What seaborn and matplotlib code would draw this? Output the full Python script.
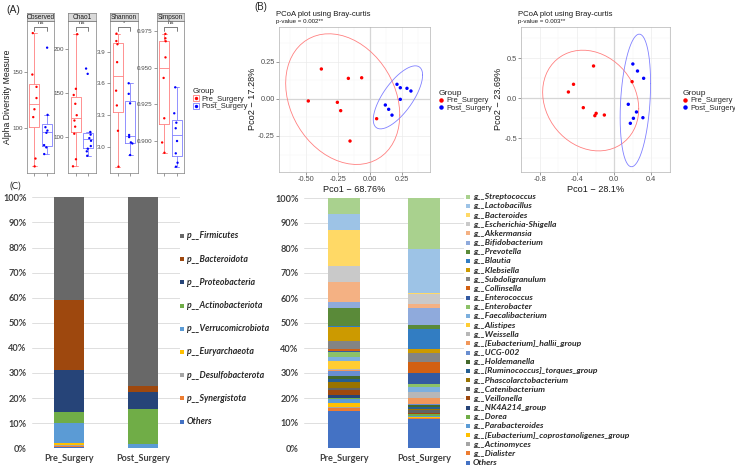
import numpy as np
import pandas as pd
import matplotlib
matplotlib.use('Agg')
import matplotlib.pyplot as plt
import matplotlib.transforms as mtrans
from matplotlib.lines import Line2D
from matplotlib.patches import Rectangle
import seaborn as sns

W, H = 735, 471

groups = ['Pre_Surgery', 'Post_Surgery']

# ---- (A) alpha diversity (one value per sample)
observed_pre = [66, 73, 110, 117, 127, 137, 148, 185]
observed_post = [77, 83, 85, 96, 98, 101, 112, 172]
chao1_pre = [67, 75, 104, 112, 119, 125, 138, 148, 155, 217]
chao1_post = [79, 84, 87, 90, 96, 99, 103, 106, 172, 178]
shannon_pre = [2.81, 3.15, 3.39, 3.53, 3.80, 3.97, 4.00, 4.07]
shannon_post = [2.92, 3.03, 3.04, 3.09, 3.11, 3.41, 3.50, 3.60]
simpson_pre = [0.892, 0.899, 0.9155, 0.943, 0.957, 0.968, 0.970, 0.973]
simpson_post = [0.8825, 0.8852, 0.8916, 0.900, 0.9087, 0.9125, 0.9189, 0.9366]
alpha_metrics = ['Observed', 'Chao1', 'Shannon', 'Simpson']
alpha_signif = ['ns', 'ns', '*', 'ns']

# ---- (B) PCoA coordinates
pcoa1_pre_x = [-0.38, -0.169, -0.065, -0.482, -0.255, -0.229, -0.156, 0.052]
pcoa1_pre_y = [0.20, 0.137, 0.141, -0.015, -0.024, -0.080, -0.284, -0.134]
pcoa1_post_x = [0.211, 0.237, 0.289, 0.320, 0.237, 0.120, 0.146, 0.172]
pcoa1_post_y = [0.097, 0.074, 0.070, 0.052, -0.004, -0.042, -0.071, -0.110]
pcoa2_pre_x = [-0.491, -0.436, -0.221, 0.193, -0.331, -0.193, -0.207, -0.105]
pcoa2_pre_y = [0.079, 0.175, 0.404, 0.208, -0.117, -0.188, -0.217, -0.209]
pcoa2_post_x = [0.201, 0.251, 0.317, 0.152, 0.240, 0.207, 0.174, 0.309]
pcoa2_post_y = [0.429, 0.341, 0.250, -0.075, -0.171, -0.250, -0.3125, -0.2425]
pcoa_axis = [('Pco1 \u2212 68.76%', 'Pco2 \u2212 17.28%', 'p-value = 0.002**'),
             ('Pco1 \u2212 28.1%', 'Pco2 \u2212 23.69%', 'p-value = 0.003**')]

# ---- (C) relative abundance, % (legend order = top of stack first)
phylum_names = ['Firmicutes', 'Bacteroidota', 'Proteobacteria', 'Actinobacteriota',
                'Verrucomicrobiota', 'Euryarchaeota', 'Desulfobacterota',
                'Synergistota', 'Others']
phylum_pre = [40.9, 27.9, 16.9, 4.4, 8.0, 0.7, 0.4, 0.5, 0.4]
phylum_post = [75.1, 2.3, 7.0, 13.8, 1.6, 0.05, 0.05, 0.05, 0.05]
phylum_colors = ['#686868', '#9E480E', '#264478', '#70AD47', '#5B9BD5',
                 '#FFC000', '#A5A5A5', '#ED7D31', '#4472C4']

genus_names = ['Streptococcus', 'Lactobacillus', 'Bacteroides', 'Escherichia-Shigella',
               'Akkermansia', 'Bifidobacterium', 'Prevotella', 'Blautia', 'Klebsiella',
               'Subdoligranulum', 'Collinsella', 'Enterococcus', 'Enterobacter',
               'Faecalibacterium', 'Alistipes', 'Weissella', '[Eubacterium]_hallii_group',
               'UCG-002', 'Holdemanella', '[Ruminococcus]_torques_group',
               'Phascolarctobacterium', 'Catenibacterium', 'Veillonella', 'NK4A214_group',
               'Dorea', 'Parabacteroides', '[Eubacterium]_coprostanoligenes_group',
               'Actinomyces', 'Dialister', 'Others']
genus_pre = [6.3, 6.4, 14.4, 6.7, 8.0, 2.3, 7.3, 0.4, 5.6, 3.1, 0.9, 0.3, 2.0, 1.7,
             3.1, 0.4, 0.3, 1.9, 1.5, 1.2, 2.1, 0.9, 2.0, 1.3, 0.4, 1.6, 1.6, 0.5, 1.1, 14.8]
genus_post = [20.4, 17.6, 0.4, 3.9, 1.7, 6.8, 1.6, 7.9, 1.7, 3.7, 4.3, 4.3, 1.3, 1.9,
              0.1, 2.5, 2.1, 0.4, 1.1, 0.7, 0.3, 1.3, 0.3, 0.1, 0.9, 0.3, 0.4, 0.1, 0.3, 11.6]
genus_colors = ['#A9D18E', '#9DC3E6', '#FFD966', '#C9C9C9', '#F4B183', '#8FAADC',
                '#5A8A39', '#327DC2', '#CC9A00', '#848484', '#D26012', '#335AA1',
                '#8CC168', '#7CAFDD', '#FFCD33', '#B7B7B7', '#F1975A', '#698ED0',
                '#43682B', '#255E91', '#997300', '#636363', '#9E480E', '#264478',
                '#70AD47', '#5B9BD5', '#FFC000', '#A5A5A5', '#ED7D31', '#4472C4']

sns.set_style('white')
plt.rcParams['font.family'] = ['Liberation Sans', 'DejaVu Sans']
plt.rcParams['axes.unicode_minus'] = True

fig = plt.figure(figsize=(W / 100, H / 100), dpi=100)


def add_ax(l, t, r, b):
    return fig.add_axes([l / W, 1 - b / H, (r - l) / W, (b - t) / H])


def grey_ticks(ax, size):
    ax.tick_params(axis='both', labelsize=size, labelcolor='#4d4d4d', color='#4d4d4d',
                   length=2, width=0.4, pad=1, direction='out')
    ax.tick_params(left=True, bottom=True)


# ================= (A) =================
light = {'Pre_Surgery': '#ff8080', 'Post_Surgery': '#8080ff'}
dark = {'Pre_Surgery': 'red', 'Post_Surgery': 'blue'}
alpha_data = {'Observed': (observed_pre, observed_post), 'Chao1': (chao1_pre, chao1_post),
              'Shannon': (shannon_pre, shannon_post), 'Simpson': (simpson_pre, simpson_post)}
facet_px = [(27, 54), (68, 96), (110, 138), (157, 184)]
facet_ylim = [(60.1, 195.8), (59.4, 232), (2.75, 4.19), (0.8782, 0.9818)]
facet_ticks = [[100, 150], [100, 150, 200], [3.0, 3.3, 3.6, 3.9], [0.900, 0.925, 0.950, 0.975]]
facet_fmt = ['{:.0f}', '{:.0f}', '{:.1f}', '{:.3f}']

np.random.seed(3)
for i, metric in enumerate(alpha_metrics):
    pre, post = alpha_data[metric]
    df = pd.DataFrame({'Group': ['Pre_Surgery'] * len(pre) + ['Post_Surgery'] * len(post),
                       'value': list(pre) + list(post)})
    l, r = facet_px[i]
    ax = add_ax(l, 21, r, 173)
    sns.boxplot(data=df, x='Group', y='value', hue='Group', order=groups, hue_order=groups,
                palette=light, fill=False, width=0.8, whis=2.0, showfliers=False,
                linewidth=0.6, legend=False, ax=ax)
    sns.stripplot(data=df, x='Group', y='value', hue='Group', order=groups, hue_order=groups,
                  palette=dark, size=1.7, jitter=0.22, linewidth=0, legend=False, ax=ax)
    ax.set_xlim(-0.6, 1.6)
    ax.set_ylim(*facet_ylim[i])
    ax.set_yticks(facet_ticks[i])
    ax.set_yticklabels([facet_fmt[i].format(v) for v in facet_ticks[i]])
    ax.set_xticks([0, 1])
    ax.set_xticklabels([])
    ax.set_xlabel('')
    ax.set_ylabel('')
    grey_ticks(ax, 4.5)
    for s in ax.spines.values():
        s.set_color('#7f7f7f')
        s.set_linewidth(0.5)
    # significance bracket
    tr = mtrans.blended_transform_factory(ax.transData, ax.transAxes)
    ax.plot([0, 0, 1, 1], [0.936, 0.9625, 0.9625, 0.936], color='#333333', lw=0.45,
            transform=tr, clip_on=False)
    ax.text(0.5, 0.972, alpha_signif[i], transform=tr, ha='center', va='bottom',
            fontsize=4.4, color='#333333')
    # facet strip
    sax = add_ax(l, 13, r, 21)
    sax.set_facecolor('#d9d9d9')
    sax.set_xticks([])
    sax.set_yticks([])
    for s in sax.spines.values():
        s.set_color('#7f7f7f')
        s.set_linewidth(0.5)
    sax.text(0.5, 0.45, metric, ha='center', va='center', fontsize=4.7, color='#1a1a1a',
             transform=sax.transAxes)

fig.text(7.5 / W, 1 - 97 / H, 'Alpha Diversity Measure', rotation=90, ha='center',
         va='center', fontsize=6.2, color='#1a1a1a')
fig.text(6 / W, 1 - 10 / H, '(A)', ha='left', va='center', fontsize=7.5)

a_handles = [(Line2D([], [], marker='s', ms=4.5, mfc='none', mec=light[g], mew=0.6, ls=''),
              Line2D([], [], marker='o', ms=1.4, color=dark[g], ls='')) for g in groups]
leg = fig.legend(a_handles, groups, title='Group', loc='upper left',
                 bbox_to_anchor=(189 / W, 1 - 84 / H), frameon=False, fontsize=5.5,
                 title_fontsize=5.7, handlelength=0.8, handletextpad=0.3,
                 labelspacing=0.05, borderpad=0, alignment='left')

# ================= (B) =================
pcoa_sets = [(pcoa1_pre_x, pcoa1_pre_y, pcoa1_post_x, pcoa1_post_y),
             (pcoa2_pre_x, pcoa2_pre_y, pcoa2_post_x, pcoa2_post_y)]
b_px = [(279, 430), (521, 670)]
b_leg_x = [435, 679]
b_xlim = [(-0.711, 0.469), (-0.828, 0.414)]
b_ylim = [(-0.49, 0.484), (-0.9175, 0.895)]
b_xt = [[-0.5, -0.25, 0.0, 0.25], [-0.8, -0.4, 0.0, 0.4]]
b_yt = [[-0.25, 0.0, 0.25], [-0.5, 0.0, 0.5]]
b_xfmt = ['{:.2f}', '{:.1f}']
b_yfmt = ['{:.2f}', '{:.1f}']


def cov_trob(x, nu=5, maxit=25, tol=0.01):
    # same robust estimate that ggplot's stat_ellipse uses (MASS::cov.trob)
    n, p = x.shape
    wt = np.ones(n)
    loc = x.mean(axis=0)
    w = np.sqrt(wt)
    for _ in range(maxit):
        w0 = w
        X = x - loc
        _, d, vt = np.linalg.svd(np.sqrt(w / w.sum())[:, None] * X, full_matrices=False)
        wX = X @ vt.T @ np.diag(1 / d)
        Q = (wX ** 2).sum(axis=1)
        w = (wt * (nu + p)) / (nu + Q)
        loc = (w[:, None] * x).sum(axis=0) / w.sum()
        if np.all(np.abs(w - w0) < tol):
            break
    sw = np.sqrt(w)[:, None] * X
    return loc, sw.T @ sw / wt.sum()


def ellipse_xy(xs, ys, level=0.95, segments=61):
    pts = np.column_stack([xs, ys])
    center, shape = cov_trob(pts)
    dfd = len(xs) - 1
    qf = dfd / 2 * ((1 - level) ** (-2 / dfd) - 1)
    radius = np.sqrt(2 * qf)
    ang = np.linspace(0, 2 * np.pi, segments)
    circ = np.column_stack([np.cos(ang), np.sin(ang)])
    e = center + radius * circ @ np.linalg.cholesky(shape).T
    return e[:, 0], e[:, 1]


for k in range(2):
    px, py, qx, qy = pcoa_sets[k]
    l, r = b_px[k]
    ax = add_ax(l, 26.7, r, 171.7)
    ax.set_xlim(*b_xlim[k])
    ax.set_ylim(*b_ylim[k])
    xt, yt = b_xt[k], b_yt[k]
    ax.set_xticks(xt)
    ax.set_yticks(yt)
    ax.set_xticks([(a + b) / 2 for a, b in zip(xt[:-1], xt[1:])] +
                  [xt[0] - (xt[1] - xt[0]) / 2, xt[-1] + (xt[1] - xt[0]) / 2], minor=True)
    ax.set_yticks([(a + b) / 2 for a, b in zip(yt[:-1], yt[1:])] +
                  [yt[0] - (yt[1] - yt[0]) / 2, yt[-1] + (yt[1] - yt[0]) / 2], minor=True)
    ax.set_xticklabels([b_xfmt[k].format(v) for v in xt])
    ax.set_yticklabels([b_yfmt[k].format(v) for v in yt])
    ax.grid(which='major', color='#ebebeb', lw=0.5)
    ax.grid(which='minor', color='#f4f4f4', lw=0.3)
    ax.tick_params(which='minor', length=0)
    ax.axhline(0, color='#d6d6d6', lw=0.9, zorder=1)
    ax.axvline(0, color='#d6d6d6', lw=0.9, zorder=1)
    df = pd.DataFrame({'x': list(px) + list(qx), 'y': list(py) + list(qy),
                       'Group': ['Pre_Surgery'] * len(px) + ['Post_Surgery'] * len(qx)})
    sns.scatterplot(data=df, x='x', y='y', hue='Group', hue_order=groups, palette=dark,
                    s=6, linewidth=0, legend=False, ax=ax, zorder=3)
    for xs, ys, g in [(px, py, 'Pre_Surgery'), (qx, qy, 'Post_Surgery')]:
        ex, ey = ellipse_xy(xs, ys)
        ax.plot(ex, ey, color=light[g], lw=0.6, zorder=2)
    grey_ticks(ax, 5.3)
    for s in ax.spines.values():
        s.set_color('#b3b3b3')
        s.set_linewidth(0.5)
    xlab, ylab, ptxt = pcoa_axis[k]
    ax.set_xlabel(xlab, fontsize=6.6, labelpad=1.5, color='#1a1a1a')
    ax.set_ylabel(ylab, fontsize=6.6, labelpad=1.0, color='#1a1a1a')
    fig.text((l - 3) / W, 1 - 14 / H, 'PCoA plot using Bray-curtis', fontsize=5.6,
             ha='left', va='center', color='#1a1a1a')
    fig.text((l - 3) / W, 1 - 21.5 / H, ptxt, fontsize=4.4, ha='left', va='center',
             color='#1a1a1a')
    b_handles = [Line2D([], [], marker='o', ms=2.2, color=dark[g], ls='') for g in groups]
    fig.legend(b_handles, groups, title='Group', loc='upper left',
               bbox_to_anchor=(b_leg_x[k] / W, 1 - 86 / H), frameon=False, fontsize=5.4,
               title_fontsize=6.0, handlelength=0.6, handletextpad=0.4,
               labelspacing=0.05, borderpad=0, alignment='left')

fig.text(254 / W, 1 - 7 / H, '(B)', ha='left', va='center', fontsize=7)

# ================= (C) =================
cfont = ['Lato', 'DejaVu Sans']


def stacked(ax, pre, post, colors):
    vals = np.array([pre, post], dtype=float)
    vals = vals / vals.sum(axis=1, keepdims=True) * 100
    bottom = np.zeros(2)
    for j in range(vals.shape[1] - 1, -1, -1):
        ax.bar([0, 1], vals[:, j], bottom=bottom, width=0.4, color=colors[j],
               linewidth=0, zorder=2)
        bottom += vals[:, j]
    ax.set_xlim(-0.5, 1.5)
    ax.set_ylim(0, 100)
    ax.set_yticks(np.arange(0, 101, 10))
    ax.set_yticklabels(['{}%'.format(v) for v in range(0, 101, 10)], family=cfont,
                       fontweight='bold', fontsize=6.6, color='#404040')
    ax.set_xticks([0, 1])
    ax.set_xticklabels(groups, family=cfont, fontweight='bold', fontsize=6.6, color='#404040')
    ax.tick_params(length=0, pad=4)
    ax.grid(axis='y', color='#d9d9d9', lw=0.6, zorder=0)
    ax.grid(axis='x', visible=False)
    for s in ax.spines.values():
        s.set_visible(False)


ax_p = add_ax(32, 197.3, 180, 448.3)
stacked(ax_p, phylum_pre, phylum_post, phylum_colors)
ax_g = add_ax(304, 198, 464, 448)
stacked(ax_g, genus_pre, genus_post, genus_colors)


def side_legend(names, colors, prefix, x0, y0, dy, size, box):
    for j, (nm, c) in enumerate(zip(names, colors)):
        y = y0 + j * dy
        fig.patches.append(Rectangle(((x0 - box / 2) / W, 1 - (y + box / 2) / H), box / W,
                                     box / H, transform=fig.transFigure, color=c,
                                     linewidth=0))
        label = nm if nm == 'Others' else prefix + nm
        fig.text((x0 + box / 2 + 2.5) / W, 1 - y / H, label, family=cfont,
                 fontweight='bold', style='italic', fontsize=size, color='#262626',
                 ha='left', va='center')


side_legend(phylum_names, phylum_colors, 'p__', 182, 236, 23.2, 6.3, 4)
side_legend(genus_names, genus_colors, 'g__', 468.5, 196.7, 9.17, 6.1, 4)

fig.text(10 / W, 1 - 186 / H, '(C)', family=cfont, ha='left', va='center', fontsize=7,
         color='#262626')

fig.savefig('out.png', dpi=100)
